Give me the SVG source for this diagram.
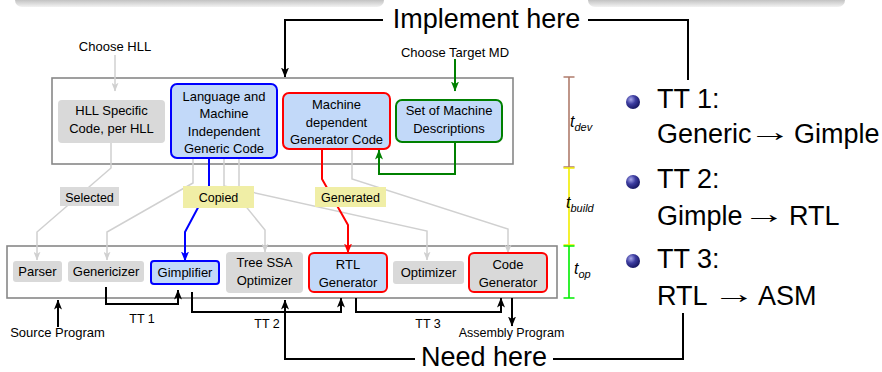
<svg xmlns="http://www.w3.org/2000/svg" width="882" height="372" viewBox="0 0 882 372">
<defs>
<linearGradient id="shadow" x1="0" y1="0" x2="0" y2="1">
<stop offset="0" stop-color="#a0a0a0"/>
<stop offset="0.55" stop-color="#c4c4c4"/>
<stop offset="1" stop-color="#f2f2f2"/>
</linearGradient>
<radialGradient id="ball" cx="0.35" cy="0.32" r="0.75">
<stop offset="0" stop-color="#a8a8ea"/>
<stop offset="0.45" stop-color="#3c3ca0"/>
<stop offset="1" stop-color="#12125a"/>
</radialGradient>
<marker id="mk" viewBox="0 0 10 8" refX="9.5" refY="4" markerWidth="10" markerHeight="8" markerUnits="userSpaceOnUse" orient="auto"><path d="M0,0 L10,4 L0,8 L2.5,4z" fill="#000"/></marker>
<marker id="mg" viewBox="0 0 10 8" refX="9.5" refY="4" markerWidth="9" markerHeight="7" markerUnits="userSpaceOnUse" orient="auto"><path d="M0,0 L10,4 L0,8 L2.5,4z" fill="#d0d0d0"/></marker>
<marker id="mb" viewBox="0 0 10 8" refX="9.5" refY="4" markerWidth="10" markerHeight="8" markerUnits="userSpaceOnUse" orient="auto"><path d="M0,0 L10,4 L0,8 L2.5,4z" fill="#0000ff"/></marker>
<marker id="mr" viewBox="0 0 10 8" refX="9.5" refY="4" markerWidth="10" markerHeight="8" markerUnits="userSpaceOnUse" orient="auto"><path d="M0,0 L10,4 L0,8 L2.5,4z" fill="#ff0000"/></marker>
<marker id="mgr" viewBox="0 0 10 8" refX="9.5" refY="4" markerWidth="10" markerHeight="8" markerUnits="userSpaceOnUse" orient="auto"><path d="M0,0 L10,4 L0,8 L2.5,4z" fill="#008000"/></marker>
</defs>
<style>
text{font-family:"Liberation Sans",Arial,sans-serif;fill:#000}
.n{font-size:13px;text-anchor:middle}
.s{font-size:12.5px;text-anchor:middle}
.big{font-size:27px}
.it{font-style:italic}
.cont{fill:#fff;stroke:#888;stroke-width:1.6}
.gray{fill:#d9d9d9}
.blue{fill:#c2d9f9;stroke:#0000ff;stroke-width:2}
.red{fill:#c2d9f9;stroke:#ff0000;stroke-width:2}
.redg{fill:#d9d9d9;stroke:#ff0000;stroke-width:2}
.green{fill:#c2d9f9;stroke:#008000;stroke-width:2}
.c{fill:none}
.k{stroke:#000;stroke-width:2}
.g{stroke:#d0d0d0;stroke-width:1.5}
.lab{fill:#f0eea6}
.lgray{fill:#dadada}
</style>

<!-- top shadow band -->
<rect x="15" y="-8" width="369" height="15" rx="7" fill="url(#shadow)"/>
<rect x="588" y="-8" width="257" height="15" rx="7" fill="url(#shadow)"/>

<!-- containers -->
<rect class="cont" x="52" y="78" width="461" height="86"/>
<rect class="cont" x="7" y="246" width="550" height="52"/>

<!-- timeline -->
<g id="timeline" fill="none" stroke-width="1.6">
<path d="M569,77 V167 M563.5,77 H574.5 M563.5,167 H574.5" stroke="#b07c6c"/>
<path d="M569,168 V245 M563.5,168 H574.5 M563.5,245 H574.5" stroke="#f2ee00"/>
<path d="M569,246 V298 M563.5,246 H574.5 M563.5,298 H574.5" stroke="#00ee00"/>
<text x="570" y="127" class="it" font-size="16">t<tspan font-size="11" dy="4">dev</tspan></text>
<text x="566" y="208" class="it" font-size="16">t<tspan font-size="11" dy="4">build</tspan></text>
<text x="574" y="274" class="it" font-size="16">t<tspan font-size="11" dy="4">op</tspan></text>
</g>

<!-- connectors -->
<g id="connectors">
<path class="c k" d="M383,20 H285 V77" marker-end="url(#mk)"/>
<path class="c k" d="M588,20 H688 V80"/>
<path class="c k" d="M415,359 H285 V300" marker-end="url(#mk)"/>
<path class="c k" d="M553,359 H683 V313"/>
<path class="c k" d="M106,287 V304 H178 V290" marker-end="url(#mk)"/>
<path class="c k" d="M192,292 V312 H341 V298" marker-end="url(#mk)"/>
<path class="c k" d="M356,298 V312 H501 V298" marker-end="url(#mk)"/>
<path class="c k" d="M58,327 V300" marker-end="url(#mk)"/>
<path class="c k" d="M512,298 V326" marker-end="url(#mk)"/>

<path class="c g" d="M115,55 V91" marker-end="url(#mg)"/>
<path class="c g" d="M111,143 V168 L37,232 V260" marker-end="url(#mg)"/>
<path class="c g" d="M193,158 V183 L107,232 V260" marker-end="url(#mg)"/>
<path class="c g" d="M239,158 V198 L265,230 V252" marker-end="url(#mg)"/>
<path class="c g" d="M224,158 V186 L427,231 V260" marker-end="url(#mg)"/>
<path class="c g" d="M352,149 V179 L508,229 V253" marker-end="url(#mg)"/>

<path class="c" stroke="#0000ff" stroke-width="2" d="M209,158 V187 L185,232 V261" marker-end="url(#mb)"/>
<path class="c" stroke="#ff0000" stroke-width="2" d="M322,149 V179 L348,225 V253" marker-end="url(#mr)"/>
<path class="c" stroke="#008000" stroke-width="2" d="M455,59 V91" marker-end="url(#mgr)"/>
<path class="c" stroke="#008000" stroke-width="2" d="M455,142 V174 H379 V150" marker-end="url(#mgr)"/>

<rect class="lgray" x="60" y="187" width="59" height="19"/>
<text class="s" x="89.5" y="201.5">Selected</text>
<rect class="lab" x="183" y="186" width="71" height="22"/>
<text class="s" x="218.5" y="202">Copied</text>
<rect class="lab" x="315" y="187" width="71" height="20"/>
<text class="s" x="350.5" y="202">Generated</text>

<text class="s" x="142" y="323" font-size="13">TT 1</text>
<text class="s" x="267" y="328" font-size="13">TT 2</text>
<text class="s" x="428" y="328" font-size="13">TT 3</text>
</g>

<!-- free texts -->
<rect x="384" y="0" width="204" height="36" fill="#fff"/>
<text class="big" x="486.5" y="28" text-anchor="middle">Implement here</text>
<text class="big" x="484" y="366" text-anchor="middle">Need here</text>
<text class="n" x="115" y="51">Choose HLL</text>
<text class="n" x="455" y="57">Choose Target MD</text>
<text class="n" x="57.5" y="337">Source Program</text>
<text class="s" x="511.5" y="337">Assembly Program</text>

<!-- top nodes -->
<g id="hll"><rect class="gray" x="58" y="100" width="107" height="43" rx="4"/>
<text class="n" x="111.5" y="115">HLL Specific</text><text class="n" x="111.5" y="133">Code, per HLL</text></g>
<g id="generic"><rect class="blue" x="171" y="84" width="106" height="74" rx="6"/>
<text class="n" x="224" y="100.5">Language and</text><text class="n" x="224" y="118">Machine</text><text class="n" x="224" y="135.5">Independent</text><text class="n" x="224" y="153">Generic Code</text></g>
<g id="machdep"><rect class="red" x="283" y="93" width="107" height="56" rx="6"/>
<text class="n" x="336.5" y="109">Machine</text><text class="n" x="336.5" y="126.5">dependent</text><text class="n" x="336.5" y="144">Generator Code</text></g>
<g id="md"><rect class="green" x="396" y="100" width="106" height="42" rx="6"/>
<text class="n" x="449" y="115">Set of Machine</text><text class="n" x="449" y="133">Descriptions</text></g>

<!-- bottom nodes -->
<g id="parser"><rect class="gray" x="13" y="261" width="49" height="21" rx="3"/><text class="n" x="37.5" y="276">Parser</text></g>
<g id="genericizer"><rect class="gray" x="68" y="261" width="76" height="21" rx="3"/><text class="n" x="106" y="276">Genericizer</text></g>
<g id="gimplifier"><rect class="blue" x="151" y="261" width="68" height="23" rx="3"/><text class="n" x="185" y="277">Gimplifier</text></g>
<g id="treessa"><rect class="gray" x="226" y="252" width="77" height="41" rx="4"/><text class="n" x="264.5" y="267">Tree SSA</text><text class="n" x="264.5" y="285">Optimizer</text></g>
<g id="rtlgen"><rect class="red" x="309" y="253" width="78" height="39" rx="5"/><text class="n" x="348" y="269">RTL</text><text class="n" x="348" y="287">Generator</text></g>
<g id="optimizer"><rect class="gray" x="393" y="261" width="71" height="23" rx="3"/><text class="n" x="428.5" y="277">Optimizer</text></g>
<g id="codegen"><rect class="redg" x="469" y="253" width="78" height="39" rx="5"/><text class="n" x="508" y="269">Code</text><text class="n" x="508" y="287">Generator</text></g>

<!-- bullet list -->
<g id="bullets">
<circle cx="633" cy="102" r="7" fill="url(#ball)"/>
<circle cx="633" cy="182" r="7" fill="url(#ball)"/>
<circle cx="633" cy="261" r="7" fill="url(#ball)"/>
<text class="big" x="657" y="108">TT 1:</text>
<text class="big" x="657" y="143">Generic</text>
<text class="big" transform="translate(748,141) scale(1.6,1)">→</text>
<text class="big" x="794" y="143">Gimple</text>
<text class="big" x="657" y="188">TT 2:</text>
<text class="big" x="657" y="225">Gimple</text>
<text class="big" transform="translate(742,223) scale(1.6,1)">→</text>
<text class="big" x="789" y="225">RTL</text>
<text class="big" x="657" y="268">TT 3:</text>
<text class="big" x="657" y="305">RTL</text>
<text class="big" transform="translate(712,303) scale(1.6,1)">→</text>
<text class="big" x="758" y="305">ASM</text>
</g>
</svg>
